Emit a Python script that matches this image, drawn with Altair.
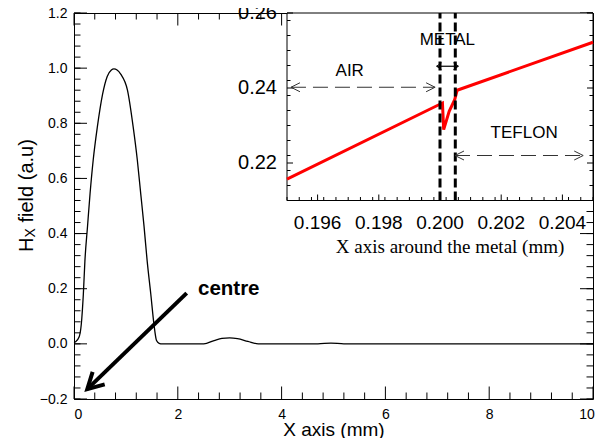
import altair as alt
import pandas as pd

# ---------------- data ----------------
main_x = [0, 0.03, 0.1, 0.14, 0.18, 0.21, 0.26, 0.31, 0.37, 0.45, 0.55, 0.64, 0.72, 0.77, 0.83, 0.9,
          1.03, 1.14, 1.22, 1.285, 1.35, 1.41, 1.48, 1.54, 1.59, 1.64, 1.7, 2.0, 2.5, 2.7, 2.85, 3.0,
          3.15, 3.35, 3.55, 4.7, 4.95, 5.2, 6.0, 8.0, 10.0]
main_y = [0.005, 0.008, 0.026, 0.07, 0.18, 0.30, 0.425, 0.546, 0.667, 0.787, 0.905, 0.97, 0.993, 0.997,
          0.993, 0.978, 0.92, 0.787, 0.667, 0.546, 0.425, 0.30, 0.18, 0.072, 0.012, 0.002, 0.0, 0.0,
          0.0, 0.012, 0.02, 0.022, 0.019, 0.009, 0.0, 0.0, 0.003, 0.0, 0.0, 0.0, 0.0]

inset_x = [0.195, 0.20008, 0.20012, 0.2003, 0.20048, 0.20056, 0.205]
inset_y = [0.2157, 0.2360, 0.2289, 0.2338, 0.2369, 0.2394, 0.2522]

metal_bounds = [0.2000, 0.2005]

main_xticks = [0, 2, 4, 6, 8, 10]
main_xlabels = ["0", "2", "4", "6", "8", "10"]
main_yticks = [-0.2, 0.0, 0.2, 0.4, 0.6, 0.8, 1.0, 1.2]
main_xminor = [round(i * 0.4, 2) for i in range(26) if round(i * 0.4, 2) not in main_xticks]
main_yminor = [round(-0.2 + i * 0.04, 2) for i in range(36)]

inset_xticks = [0.196, 0.198, 0.200, 0.202, 0.204]
inset_xlabels = ["0.196", "0.198", "0.200", "0.202", "0.204"]
inset_xminor = [round(0.195 + i * 0.0004, 4) for i in range(26)]
inset_yticks = [0.22, 0.24, 0.26]
inset_ylabels = ["0.22", "0.24", "0.26"]
inset_yminor = [round(0.21 + i * 0.004, 3) for i in range(13)]

inset_box = pd.DataFrame({"x1": [0.195], "x2": [0.205], "y1": [0.21], "y2": [0.26]})
arrows_dashed = pd.DataFrame({"x1": [0.19513, 0.20049], "x2": [0.19984, 0.20468], "y": [0.2402, 0.2220]})
arrow_metal = pd.DataFrame({"x1": [0.19989], "x2": [0.2006], "y": [0.2458]})
inset_texts = pd.DataFrame({"x": [0.19705, 0.20024, 0.20275], "y": [0.2446, 0.2529, 0.2280],
                            "t": ["AIR", "METAL", "TEFLON"]})
inset_title = pd.DataFrame({"x": [0.20033], "y": [0.21], "t": ["X axis around the metal (mm)"]})
centre_line = pd.DataFrame({"x1": [2.171], "y1": [0.184], "x2": [0.256], "y2": [-0.164]})
centre_label = pd.DataFrame({"x": [2.389], "y": [0.199], "t": ["centre"]})

W, H = 519, 386
FONT = "Liberation Sans, Arial, sans-serif"

# ---------------- scales ----------------
XD, YD = [0, 10], [-0.2, 1.2]
IXD, IYD = [0.195, 0.205], [0.21, 0.26]
IX0, IX1 = 213, 519
IY0, IY1 = 187.5, 0
xs = alt.Scale(domain=XD, nice=False, zero=False)
ys = alt.Scale(domain=YD, nice=False, zero=False)
ixs = alt.Scale(domain=IXD, range=[IX0, IX1], nice=False, zero=False)
iys = alt.Scale(domain=IYD, range=[IY0, IY1], nice=False, zero=False)

def MX(f): return alt.X(f, scale=xs, axis=None)
def MY(f): return alt.Y(f, scale=ys, axis=None)
def IX(f): return alt.X(f, scale=ixs, axis=None)
def IY(f): return alt.Y(f, scale=iys, axis=None)

# tick glyphs: a one-unit stroke from the anchor, in the inward direction
UP, DOWN, RIGHT, LEFT = "M0,0L0,-1", "M0,0L0,1", "M0,0L1,0", "M0,0L-1,0"

def tick_pts(vals, edge, along, xsc, ysc, path, length):
    n = len(vals)
    df = pd.DataFrame({"px": vals, "py": [edge] * n}) if along == "x" else \
        pd.DataFrame({"px": [edge] * n, "py": vals})
    return alt.Chart(df).mark_point(shape=path, filled=False, size=(2 * length) ** 2, strokeWidth=1,
                                    color="black", opacity=1).encode(
        x=alt.X("px:Q", scale=xsc, axis=None), y=alt.Y("py:Q", scale=ysc, axis=None))

# ---------------- main plot ----------------
curve = alt.Chart(pd.DataFrame({"x": main_x, "y": main_y})).mark_line(
    color="black", strokeWidth=1.3, interpolate="monotone"
).encode(
    x=alt.X("x:Q", scale=xs, axis=alt.Axis(values=main_xticks[:-1], title="X axis (mm)", labelFontSize=14,
                                            titleFontSize=19, titleFontWeight="normal",
                                            labelBaseline="alphabetic", labelPadding=19.7,
                                            titleBaseline="alphabetic", titleY=36,
                                            ticks=False, tickSize=0, domain=False, grid=False,
                                            labelFont=FONT, titleFont=FONT, labelColor="black",
                                            titleColor="black", orient="bottom")),
    y=alt.Y("y:Q", scale=ys, axis=alt.Axis(values=main_yticks, title=None, labelFontSize=14,
                                            format=".1f", labelPadding=7, ticks=False, tickSize=0,
                                            domain=False, grid=False, labelFont=FONT,
                                            labelColor="black", orient="left")),
)

last_xlabel = alt.Chart(pd.DataFrame({"x": main_xticks[-1:], "y": [YD[0]], "t": main_xlabels[-1:]})).mark_text(
    fontSize=14, font=FONT, color="black", baseline="alphabetic", dy=19.7, dx=-6
).encode(x=MX("x:Q"), y=MY("y:Q"), text="t:N")

main_ticks = [
    tick_pts(main_xticks, YD[0], "x", xs, ys, UP, 12.5),
    tick_pts(main_xminor, YD[0], "x", xs, ys, UP, 6.5),
    tick_pts(main_xticks, YD[1], "x", xs, ys, DOWN, 12.5),
    tick_pts(main_xminor, YD[1], "x", xs, ys, DOWN, 6.5),
    tick_pts(main_yticks, XD[0], "y", xs, ys, RIGHT, 13),
    tick_pts(main_yminor, XD[0], "y", xs, ys, RIGHT, 6.5),
    tick_pts(main_yticks, XD[1], "y", xs, ys, LEFT, 13),
    tick_pts(main_yminor, XD[1], "y", xs, ys, LEFT, 6.5),
]

centre_arrow = alt.Chart(centre_line).mark_rule(color="black", strokeWidth=4, strokeCap="butt").encode(
    x=MX("x1:Q"), y=MY("y1:Q"), x2="x2:Q", y2="y2:Q")
centre_head = alt.Chart(centre_line).mark_point(
    shape="M-1,-0.55L0,0L-1,0.55", filled=False, size=1000, strokeWidth=4, color="black",
    opacity=1, angle=136
).encode(x=MX("x2:Q"), y=MY("y2:Q"))
centre_text = alt.Chart(centre_label).mark_text(
    align="left", baseline="middle", fontSize=20.5, fontWeight="bold", font=FONT, color="black"
).encode(x=MX("x:Q"), y=MY("y:Q"), text="t:N")

ytitle = [
    alt.Chart(pd.DataFrame({"t": ["H"]})).mark_text(angle=270, align="left", baseline="alphabetic",
        fontSize=20, font=FONT, color="black").encode(x=alt.value(-41), y=alt.value(239), text="t:N"),
    alt.Chart(pd.DataFrame({"t": ["X"]})).mark_text(angle=270, align="left", baseline="alphabetic",
        fontSize=14, font=FONT, color="black").encode(x=alt.value(-39), y=alt.value(224.5), text="t:N"),
    alt.Chart(pd.DataFrame({"t": ["field (a.u)"]})).mark_text(angle=270, align="left", baseline="alphabetic",
        fontSize=20, font=FONT, color="black").encode(x=alt.value(-41), y=alt.value(209.5), text="t:N"),
]

# ---------------- inset ----------------
frame = alt.Chart(inset_box).mark_rect(fill="white", stroke="black", strokeWidth=1).encode(
    x=IX("x1:Q"), x2="x2:Q", y=IY("y1:Q"), y2="y2:Q")

inset_ticks = [
    tick_pts(inset_xticks, IYD[0], "x", ixs, iys, UP, 6),
    tick_pts(inset_xminor, IYD[0], "x", ixs, iys, UP, 3.5),
    tick_pts(inset_yticks, IXD[0], "y", ixs, iys, RIGHT, 6),
    tick_pts(inset_yminor, IXD[0], "y", ixs, iys, RIGHT, 3.5),
    tick_pts(inset_yticks, IXD[1], "y", ixs, iys, LEFT, 6),
    tick_pts(inset_yminor, IXD[1], "y", ixs, iys, LEFT, 3.5),
]

red = alt.Chart(pd.DataFrame({"x": inset_x, "y": inset_y})).mark_line(
    color="#ff0000", strokeWidth=3).encode(x=IX("x:Q"), y=IY("y:Q"))

metal = alt.Chart(pd.DataFrame({"b": metal_bounds, "y1": [0.21, 0.21], "y2": [0.26, 0.26]})).mark_rule(
    color="black", strokeWidth=3, strokeDash=[9, 4]).encode(x=IX("b:Q"), y=IY("y1:Q"), y2="y2:Q")

dashed = alt.Chart(arrows_dashed).mark_rule(color="#333333", strokeWidth=1, strokeDash=[15, 7]).encode(
    x=IX("x1:Q"), x2="x2:Q", y=IY("y:Q"))
dhead_l = alt.Chart(arrows_dashed).mark_point(shape="M1,-0.5L0,0L1,0.5", filled=False, size=324,
    strokeWidth=1, color="#333333", opacity=1).encode(x=IX("x1:Q"), y=IY("y:Q"))
dhead_r = alt.Chart(arrows_dashed).mark_point(shape="M-1,-0.5L0,0L-1,0.5", filled=False, size=324,
    strokeWidth=1, color="#333333", opacity=1).encode(x=IX("x2:Q"), y=IY("y:Q"))

mline = alt.Chart(arrow_metal).mark_rule(color="black", strokeWidth=1.2, strokeCap="butt").encode(
    x=IX("x1:Q"), x2="x2:Q", y=IY("y:Q"))
mhead_l = alt.Chart(arrow_metal).mark_point(shape="M1,-0.7L0,0L1,0.7", filled=False, size=100,
    strokeWidth=1, color="black", opacity=1).encode(x=IX("x1:Q"), y=IY("y:Q"))
mhead_r = alt.Chart(arrow_metal).mark_point(shape="M-1,-0.7L0,0L-1,0.7", filled=False, size=100,
    strokeWidth=1, color="black", opacity=1).encode(x=IX("x2:Q"), y=IY("y:Q"))

itext = alt.Chart(inset_texts).mark_text(fontSize=17, font=FONT, color="black", baseline="middle").encode(
    x=IX("x:Q"), y=IY("y:Q"), text="t:N")

ixlab = alt.Chart(pd.DataFrame({"v": inset_xticks, "l": inset_xlabels, "y": [0.21] * 5})).mark_text(
    fontSize=19, font=FONT, color="black", baseline="middle", dy=22).encode(
    x=IX("v:Q"), y=IY("y:Q"), text="l:N")
iylab = alt.Chart(pd.DataFrame({"v": inset_yticks, "l": inset_ylabels, "x": [0.195] * 3})).mark_text(
    fontSize=20, font=FONT, color="black", baseline="middle", align="right", dx=-10).encode(
    y=IY("v:Q"), x=IX("x:Q"), text="l:N")
ixtitle = alt.Chart(inset_title).mark_text(
    fontSize=19, font="Liberation Serif, Times New Roman, serif", color="black", baseline="middle", dy=46
).encode(x=IX("x:Q"), y=IY("y:Q"), text="t:N")

layers = [curve, last_xlabel, *main_ticks, centre_arrow, centre_head, centre_text, *ytitle,
          frame, *inset_ticks, red, metal, dashed, dhead_l, dhead_r, mline, mhead_l, mhead_r,
          itext, ixlab, iylab, ixtitle]

chart = alt.layer(*layers).resolve_scale(x="independent", y="independent").properties(
    width=W, height=H,
    autosize=alt.AutoSizeParams(type="none"),
    padding={"left": 66, "top": 5, "right": 2, "bottom": 39},
).configure_view(stroke="black", strokeWidth=1)

chart.save("out.html", embed_options={"renderer": "svg", "actions": False})
